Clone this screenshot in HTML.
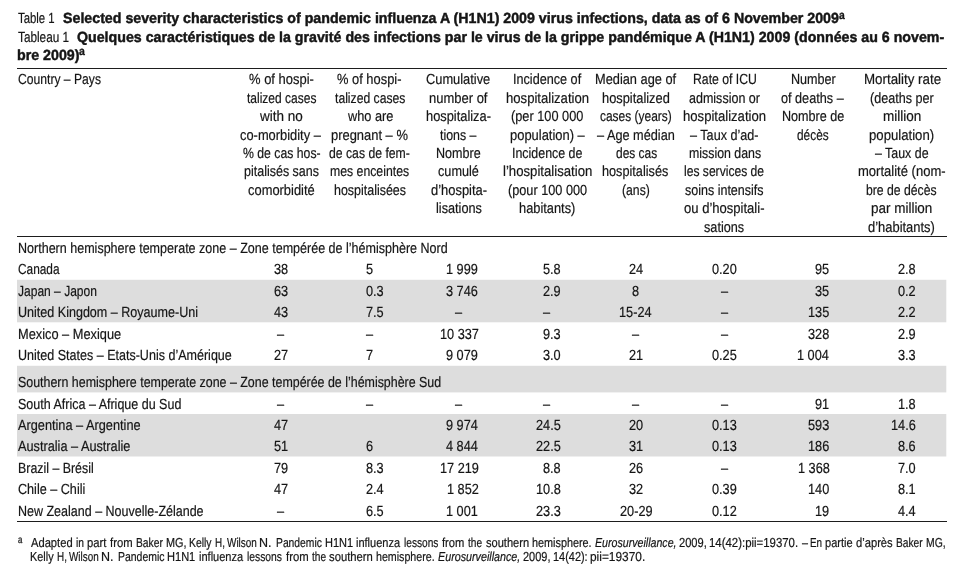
<!DOCTYPE html>
<html lang="en"><head><meta charset="utf-8"><title>Table 1</title>
<style>
html,body{margin:0;padding:0;background:#fff}
body{width:978px;height:574px;position:relative;overflow:hidden;font-family:"Liberation Sans",Arial,sans-serif;}
.t{position:absolute;white-space:nowrap;line-height:20px;transform-origin:0 0;margin:0;padding:0;text-rendering:geometricPrecision}
.t i{font-style:italic}
.rule{position:absolute;background:#1d1d1d;height:1px}
.band{position:absolute;background:#dcddde}
.r{font-size:14.7px;font-weight:400;color:#151515;-webkit-text-stroke:0.2px #151515}
.b{font-size:14.7px;font-weight:700;color:#151515;-webkit-text-stroke:0.45px #151515}
.bs{font-size:11.6px;font-weight:700;color:#151515;-webkit-text-stroke:0.3px #151515}
.f{font-size:13px;font-weight:400;color:#151515;-webkit-text-stroke:0.2px #151515}
.fs{font-size:10.4px;font-weight:400;color:#151515;-webkit-text-stroke:0.3px #151515}
</style></head>
<body>
<div class="band" style="left:17px;top:279px;width:929px;height:1px;background:#f8f8f8"></div>
<div class="band" style="left:946px;top:279px;width:1px;height:1px;background:#fdfdfd"></div>
<div class="band" style="left:17px;top:280px;width:929px;height:42px;background:#dddddd"></div>
<div class="band" style="left:946px;top:280px;width:1px;height:42px;background:#f5f5f5"></div>
<div class="band" style="left:17px;top:322px;width:929px;height:1px;background:#f5f5f5"></div>
<div class="band" style="left:946px;top:322px;width:1px;height:1px;background:#fcfcfc"></div>
<div class="band" style="left:17px;top:365px;width:929px;height:1px;background:#f8f8f8"></div>
<div class="band" style="left:946px;top:365px;width:1px;height:1px;background:#fdfdfd"></div>
<div class="band" style="left:17px;top:366px;width:929px;height:26px;background:#dddddd"></div>
<div class="band" style="left:946px;top:366px;width:1px;height:26px;background:#f5f5f5"></div>
<div class="band" style="left:17px;top:392px;width:929px;height:1px;background:#f1f1f1"></div>
<div class="band" style="left:946px;top:392px;width:1px;height:1px;background:#fbfbfb"></div>
<div class="band" style="left:17px;top:414px;width:929px;height:42px;background:#dddddd"></div>
<div class="band" style="left:946px;top:414px;width:1px;height:42px;background:#f5f5f5"></div>
<div class="band" style="left:17px;top:456px;width:929px;height:1px;background:#eeeeee"></div>
<div class="band" style="left:946px;top:456px;width:1px;height:1px;background:#fafafa"></div>
<div class="rule" style="left:17.00px;top:68.00px;width:930.00px"></div>
<div class="rule" style="left:17.00px;top:236.00px;width:930.00px"></div>
<div class="rule" style="left:17.00px;top:521.00px;width:930.00px"></div>
<span class="t r" style="left:17.81px;top:9px;transform:scaleX(0.7742)">Table 1</span>
<span class="t b" style="left:63.46px;top:9px;transform:scaleX(0.9673)">Selected severity characteristics of pandemic influenza A (H1N1) 2009 virus infections, data as of 6 November 2009</span>
<span class="t bs" style="left:838.98px;top:6px;transform:scaleX(0.8923)">a</span>
<span class="t r" style="left:17.80px;top:28px;transform:scaleX(0.8016)">Tableau 1</span>
<span class="t b" style="left:77.06px;top:28px;transform:scaleX(0.9670)">Quelques caractéristiques de la gravité des infections par le virus de la grippe pandémique A (H1N1) 2009 (données au 6 novem-</span>
<span class="t b" style="left:17.27px;top:46px;transform:scaleX(0.9692)">bre 2009)</span>
<span class="t bs" style="left:79.47px;top:42px;transform:scaleX(0.9077)">a</span>
<span class="t r" style="left:17.58px;top:70px;transform:scaleX(0.8262)">Country – Pays</span>
<span class="t r" style="left:249.36px;top:70px;transform:scaleX(0.8828)">% of hospi-</span>
<span class="t r" style="left:246.80px;top:89px;transform:scaleX(0.8178)">talized cases</span>
<span class="t r" style="left:260.30px;top:107px;transform:scaleX(0.9196)">with no</span>
<span class="t r" style="left:240.16px;top:126px;transform:scaleX(0.8763)">co-morbidity –</span>
<span class="t r" style="left:242.88px;top:144px;transform:scaleX(0.8337)">% de cas hos-</span>
<span class="t r" style="left:243.66px;top:162px;transform:scaleX(0.8506)">pitalisés sans</span>
<span class="t r" style="left:247.96px;top:181px;transform:scaleX(0.8787)">comorbidité</span>
<span class="t r" style="left:337.36px;top:70px;transform:scaleX(0.8772)">% of hospi-</span>
<span class="t r" style="left:335.30px;top:89px;transform:scaleX(0.8284)">talized cases</span>
<span class="t r" style="left:347.50px;top:107px;transform:scaleX(0.8696)">who are</span>
<span class="t r" style="left:330.94px;top:126px;transform:scaleX(0.8800)">pregnant – %</span>
<span class="t r" style="left:329.18px;top:144px;transform:scaleX(0.8323)">de cas de fem-</span>
<span class="t r" style="left:330.37px;top:162px;transform:scaleX(0.8353)">mes enceintes</span>
<span class="t r" style="left:333.85px;top:181px;transform:scaleX(0.8479)">hospitalisées</span>
<span class="t r" style="left:426.34px;top:70px;transform:scaleX(0.8747)">Cumulative</span>
<span class="t r" style="left:429.14px;top:89px;transform:scaleX(0.8840)">number of</span>
<span class="t r" style="left:425.93px;top:107px;transform:scaleX(0.8742)">hospitaliza-</span>
<span class="t r" style="left:440.30px;top:126px;transform:scaleX(0.8414)">tions –</span>
<span class="t r" style="left:436.34px;top:144px;transform:scaleX(0.8552)">Nombre</span>
<span class="t r" style="left:438.17px;top:162px;transform:scaleX(0.8627)">cumulé</span>
<span class="t r" style="left:430.66px;top:181px;transform:scaleX(0.8797)">d’hospita-</span>
<span class="t r" style="left:435.55px;top:199px;transform:scaleX(0.8654)">lisations</span>
<span class="t r" style="left:512.62px;top:70px;transform:scaleX(0.8603)">Incidence of</span>
<span class="t r" style="left:505.61px;top:89px;transform:scaleX(0.8921)">hospitalization</span>
<span class="t r" style="left:510.95px;top:107px;transform:scaleX(0.8683)">(per 100 000</span>
<span class="t r" style="left:509.54px;top:126px;transform:scaleX(0.8807)">population) –</span>
<span class="t r" style="left:511.84px;top:144px;transform:scaleX(0.8454)">Incidence de</span>
<span class="t r" style="left:502.83px;top:162px;transform:scaleX(0.8969)">l’hospitalisation</span>
<span class="t r" style="left:507.55px;top:181px;transform:scaleX(0.8654)">(pour 100 000</span>
<span class="t r" style="left:518.93px;top:199px;transform:scaleX(0.8733)">habitants)</span>
<span class="t r" style="left:595.23px;top:70px;transform:scaleX(0.8715)">Median age of</span>
<span class="t r" style="left:602.03px;top:89px;transform:scaleX(0.8739)">hospitalized</span>
<span class="t r" style="left:600.19px;top:107px;transform:scaleX(0.8138)">cases (years)</span>
<span class="t r" style="left:596.70px;top:126px;transform:scaleX(0.8663)">– Age médian</span>
<span class="t r" style="left:615.59px;top:144px;transform:scaleX(0.8141)">des cas</span>
<span class="t r" style="left:602.44px;top:162px;transform:scaleX(0.8638)">hospitalisés</span>
<span class="t r" style="left:622.08px;top:181px;transform:scaleX(0.8312)">(ans)</span>
<span class="t r" style="left:692.87px;top:70px;transform:scaleX(0.8334)">Rate of ICU</span>
<span class="t r" style="left:689.17px;top:89px;transform:scaleX(0.8520)">admission or</span>
<span class="t r" style="left:683.21px;top:107px;transform:scaleX(0.8921)">hospitalization</span>
<span class="t r" style="left:690.20px;top:126px;transform:scaleX(0.8593)">– Taux d’ad-</span>
<span class="t r" style="left:688.57px;top:144px;transform:scaleX(0.8414)">mission dans</span>
<span class="t r" style="left:684.48px;top:162px;transform:scaleX(0.8240)">les services de</span>
<span class="t r" style="left:685.29px;top:181px;transform:scaleX(0.8514)">soins intensifs</span>
<span class="t r" style="left:684.26px;top:199px;transform:scaleX(0.8883)">ou d’hospitali-</span>
<span class="t r" style="left:704.28px;top:218px;transform:scaleX(0.8634)">sations</span>
<span class="t r" style="left:790.64px;top:70px;transform:scaleX(0.8566)">Number</span>
<span class="t r" style="left:781.47px;top:89px;transform:scaleX(0.8623)">of deaths –</span>
<span class="t r" style="left:782.04px;top:107px;transform:scaleX(0.8575)">Nombre de</span>
<span class="t r" style="left:797.40px;top:126px;transform:scaleX(0.8078)">décès</span>
<span class="t r" style="left:863.59px;top:70px;transform:scaleX(0.9081)">Mortality rate</span>
<span class="t r" style="left:869.96px;top:89px;transform:scaleX(0.8571)">(deaths per</span>
<span class="t r" style="left:882.81px;top:107px;transform:scaleX(0.9200)">million</span>
<span class="t r" style="left:869.13px;top:126px;transform:scaleX(0.8954)">population)</span>
<span class="t r" style="left:874.90px;top:144px;transform:scaleX(0.8444)">– Taux de</span>
<span class="t r" style="left:857.63px;top:162px;transform:scaleX(0.8872)">mortalité (nom-</span>
<span class="t r" style="left:866.08px;top:181px;transform:scaleX(0.8310)">bre de décès</span>
<span class="t r" style="left:871.11px;top:199px;transform:scaleX(0.9165)">par million</span>
<span class="t r" style="left:868.36px;top:218px;transform:scaleX(0.8803)">d’habitants)</span>
<span class="t r" style="left:17.75px;top:239px;transform:scaleX(0.8530)">Northern hemisphere temperate zone – Zone tempérée de l’hémisphère Nord</span>
<span class="t r" style="left:17.69px;top:260px;transform:scaleX(0.8079)">Canada</span>
<span class="t r" style="left:274.26px;top:260px;transform:scaleX(0.8670)">38</span>
<span class="t r" style="left:365.87px;top:260px;transform:scaleX(0.8670)">5</span>
<span class="t r" style="left:446.47px;top:260px;transform:scaleX(0.8670)">1 999</span>
<span class="t r" style="left:542.96px;top:260px;transform:scaleX(0.8670)">5.8</span>
<span class="t r" style="left:628.75px;top:260px;transform:scaleX(0.8670)">24</span>
<span class="t r" style="left:712.14px;top:260px;transform:scaleX(0.8670)">0.20</span>
<span class="t r" style="left:815.34px;top:260px;transform:scaleX(0.8670)">95</span>
<span class="t r" style="left:897.66px;top:260px;transform:scaleX(0.8670)">2.8</span>
<span class="t r" style="left:18.10px;top:282px;transform:scaleX(0.8189)">Japan – Japon</span>
<span class="t r" style="left:274.15px;top:282px;transform:scaleX(0.8670)">63</span>
<span class="t r" style="left:365.87px;top:282px;transform:scaleX(0.8670)">0.3</span>
<span class="t r" style="left:446.47px;top:282px;transform:scaleX(0.8670)">3 746</span>
<span class="t r" style="left:543.18px;top:282px;transform:scaleX(0.8670)">2.9</span>
<span class="t r" style="left:632.32px;top:282px;transform:scaleX(0.8670)">8</span>
<span class="t r" style="left:721.42px;top:282px;transform:scaleX(0.8670)">–</span>
<span class="t r" style="left:815.34px;top:282px;transform:scaleX(0.8670)">35</span>
<span class="t r" style="left:897.88px;top:282px;transform:scaleX(0.8670)">0.2</span>
<span class="t r" style="left:17.75px;top:303px;transform:scaleX(0.8546)">United Kingdom – Royaume-Uni</span>
<span class="t r" style="left:274.36px;top:303px;transform:scaleX(0.8670)">43</span>
<span class="t r" style="left:365.65px;top:303px;transform:scaleX(0.8670)">7.5</span>
<span class="t r" style="left:455.42px;top:303px;transform:scaleX(0.8670)">–</span>
<span class="t r" style="left:543.42px;top:303px;transform:scaleX(0.8670)">–</span>
<span class="t r" style="left:619.32px;top:303px;transform:scaleX(0.8670)">15-24</span>
<span class="t r" style="left:721.42px;top:303px;transform:scaleX(0.8670)">–</span>
<span class="t r" style="left:808.19px;top:303px;transform:scaleX(0.8670)">135</span>
<span class="t r" style="left:897.88px;top:303px;transform:scaleX(0.8670)">2.2</span>
<span class="t r" style="left:17.73px;top:325px;transform:scaleX(0.8719)">Mexico – Mexique</span>
<span class="t r" style="left:277.42px;top:325px;transform:scaleX(0.8670)">–</span>
<span class="t r" style="left:366.42px;top:325px;transform:scaleX(0.8670)">–</span>
<span class="t r" style="left:439.54px;top:325px;transform:scaleX(0.8670)">10 337</span>
<span class="t r" style="left:542.96px;top:325px;transform:scaleX(0.8670)">9.3</span>
<span class="t r" style="left:632.32px;top:325px;transform:scaleX(0.8670)">–</span>
<span class="t r" style="left:721.42px;top:325px;transform:scaleX(0.8670)">–</span>
<span class="t r" style="left:808.19px;top:325px;transform:scaleX(0.8670)">328</span>
<span class="t r" style="left:897.88px;top:325px;transform:scaleX(0.8670)">2.9</span>
<span class="t r" style="left:17.75px;top:346px;transform:scaleX(0.8530)">United States – Etats-Unis d’Amérique</span>
<span class="t r" style="left:274.26px;top:346px;transform:scaleX(0.8670)">27</span>
<span class="t r" style="left:365.65px;top:346px;transform:scaleX(0.8670)">7</span>
<span class="t r" style="left:446.47px;top:346px;transform:scaleX(0.8670)">9 079</span>
<span class="t r" style="left:542.96px;top:346px;transform:scaleX(0.8670)">3.0</span>
<span class="t r" style="left:628.86px;top:346px;transform:scaleX(0.8670)">21</span>
<span class="t r" style="left:712.25px;top:346px;transform:scaleX(0.8670)">0.25</span>
<span class="t r" style="left:797.35px;top:346px;transform:scaleX(0.8670)">1 004</span>
<span class="t r" style="left:897.66px;top:346px;transform:scaleX(0.8670)">3.3</span>
<span class="t r" style="left:18.18px;top:373px;transform:scaleX(0.8455)">Southern hemisphere temperate zone – Zone tempérée de l’hémisphère Sud</span>
<span class="t r" style="left:18.17px;top:395px;transform:scaleX(0.8514)">South Africa – Afrique du Sud</span>
<span class="t r" style="left:277.42px;top:395px;transform:scaleX(0.8670)">–</span>
<span class="t r" style="left:366.42px;top:395px;transform:scaleX(0.8670)">–</span>
<span class="t r" style="left:455.42px;top:395px;transform:scaleX(0.8670)">–</span>
<span class="t r" style="left:543.42px;top:395px;transform:scaleX(0.8670)">–</span>
<span class="t r" style="left:632.32px;top:395px;transform:scaleX(0.8670)">–</span>
<span class="t r" style="left:721.42px;top:395px;transform:scaleX(0.8670)">–</span>
<span class="t r" style="left:815.34px;top:395px;transform:scaleX(0.8670)">91</span>
<span class="t r" style="left:897.66px;top:395px;transform:scaleX(0.8670)">1.8</span>
<span class="t r" style="left:18.30px;top:416px;transform:scaleX(0.8675)">Argentina – Argentine</span>
<span class="t r" style="left:274.36px;top:416px;transform:scaleX(0.8670)">47</span>
<span class="t r" style="left:446.25px;top:416px;transform:scaleX(0.8670)">9 974</span>
<span class="t r" style="left:536.02px;top:416px;transform:scaleX(0.8670)">24.5</span>
<span class="t r" style="left:628.75px;top:416px;transform:scaleX(0.8670)">20</span>
<span class="t r" style="left:712.25px;top:416px;transform:scaleX(0.8670)">0.13</span>
<span class="t r" style="left:808.19px;top:416px;transform:scaleX(0.8670)">593</span>
<span class="t r" style="left:890.72px;top:416px;transform:scaleX(0.8670)">14.6</span>
<span class="t r" style="left:18.30px;top:437px;transform:scaleX(0.8658)">Australia – Australie</span>
<span class="t r" style="left:274.26px;top:437px;transform:scaleX(0.8670)">51</span>
<span class="t r" style="left:365.65px;top:437px;transform:scaleX(0.8670)">6</span>
<span class="t r" style="left:446.25px;top:437px;transform:scaleX(0.8670)">4 844</span>
<span class="t r" style="left:536.02px;top:437px;transform:scaleX(0.8670)">22.5</span>
<span class="t r" style="left:628.86px;top:437px;transform:scaleX(0.8670)">31</span>
<span class="t r" style="left:712.25px;top:437px;transform:scaleX(0.8670)">0.13</span>
<span class="t r" style="left:808.19px;top:437px;transform:scaleX(0.8670)">186</span>
<span class="t r" style="left:897.66px;top:437px;transform:scaleX(0.8670)">8.6</span>
<span class="t r" style="left:17.76px;top:459px;transform:scaleX(0.8432)">Brazil – Brésil</span>
<span class="t r" style="left:274.15px;top:459px;transform:scaleX(0.8670)">79</span>
<span class="t r" style="left:365.87px;top:459px;transform:scaleX(0.8670)">8.3</span>
<span class="t r" style="left:439.54px;top:459px;transform:scaleX(0.8670)">17 219</span>
<span class="t r" style="left:542.96px;top:459px;transform:scaleX(0.8670)">8.8</span>
<span class="t r" style="left:628.86px;top:459px;transform:scaleX(0.8670)">26</span>
<span class="t r" style="left:721.42px;top:459px;transform:scaleX(0.8670)">–</span>
<span class="t r" style="left:797.57px;top:459px;transform:scaleX(0.8670)">1 368</span>
<span class="t r" style="left:897.66px;top:459px;transform:scaleX(0.8670)">7.0</span>
<span class="t r" style="left:17.66px;top:480px;transform:scaleX(0.8586)">Chile – Chili</span>
<span class="t r" style="left:274.36px;top:480px;transform:scaleX(0.8670)">47</span>
<span class="t r" style="left:365.87px;top:480px;transform:scaleX(0.8670)">2.4</span>
<span class="t r" style="left:446.69px;top:480px;transform:scaleX(0.8670)">1 852</span>
<span class="t r" style="left:536.02px;top:480px;transform:scaleX(0.8670)">10.8</span>
<span class="t r" style="left:628.86px;top:480px;transform:scaleX(0.8670)">32</span>
<span class="t r" style="left:712.25px;top:480px;transform:scaleX(0.8670)">0.39</span>
<span class="t r" style="left:808.19px;top:480px;transform:scaleX(0.8670)">140</span>
<span class="t r" style="left:897.88px;top:480px;transform:scaleX(0.8670)">8.1</span>
<span class="t r" style="left:17.75px;top:502px;transform:scaleX(0.8513)">New Zealand – Nouvelle-Zélande</span>
<span class="t r" style="left:277.42px;top:502px;transform:scaleX(0.8670)">–</span>
<span class="t r" style="left:365.65px;top:502px;transform:scaleX(0.8670)">6.5</span>
<span class="t r" style="left:446.47px;top:502px;transform:scaleX(0.8670)">1 001</span>
<span class="t r" style="left:536.02px;top:502px;transform:scaleX(0.8670)">23.3</span>
<span class="t r" style="left:619.64px;top:502px;transform:scaleX(0.8670)">20-29</span>
<span class="t r" style="left:712.25px;top:502px;transform:scaleX(0.8670)">0.12</span>
<span class="t r" style="left:815.34px;top:502px;transform:scaleX(0.8670)">19</span>
<span class="t r" style="left:897.66px;top:502px;transform:scaleX(0.8670)">4.4</span>
<span class="t fs" style="left:17.81px;top:531px;transform:scaleX(0.7478)">a</span>
<span class="t f" style="left:30.90px;top:533px;transform:scaleX(0.8586)">Adapted</span>
<span class="t f" style="left:75.51px;top:533px;transform:scaleX(0.7886)">in</span>
<span class="t f" style="left:86.55px;top:533px;transform:scaleX(0.8644)">part</span>
<span class="t f" style="left:110.20px;top:533px;transform:scaleX(0.8673)">from</span>
<span class="t f" style="left:135.51px;top:533px;transform:scaleX(0.7908)">Baker</span>
<span class="t f" style="left:165.56px;top:533px;transform:scaleX(0.8356)">MG,</span>
<span class="t f" style="left:188.60px;top:533px;transform:scaleX(0.8000)">Kelly</span>
<span class="t f" style="left:214.64px;top:533px;transform:scaleX(0.7600)">H,</span>
<span class="t f" style="left:226.90px;top:533px;transform:scaleX(0.7660)">Wilson</span>
<span class="t f" style="left:259.44px;top:533px;transform:scaleX(0.9600)">N.</span>
<span class="t f" style="left:276.01px;top:533px;transform:scaleX(0.7929)">Pandemic</span>
<span class="t f" style="left:324.95px;top:533px;transform:scaleX(0.8472)">H1N1</span>
<span class="t f" style="left:356.27px;top:533px;transform:scaleX(0.8466)">influenza</span>
<span class="t f" style="left:404.12px;top:533px;transform:scaleX(0.7791)">lessons</span>
<span class="t f" style="left:442.40px;top:533px;transform:scaleX(0.8594)">from</span>
<span class="t f" style="left:468.30px;top:533px;transform:scaleX(0.7771)">the</span>
<span class="t f" style="left:485.89px;top:533px;transform:scaleX(0.8523)">southern</span>
<span class="t f" style="left:532.08px;top:533px;transform:scaleX(0.8330)">hemisphere.</span>
<span class="t f" style="left:594.80px;top:533px;transform:scaleX(0.8173)"><i>Eurosurveillance,</i></span>
<span class="t f" style="left:678.87px;top:533px;transform:scaleX(0.8548)">2009,</span>
<span class="t f" style="left:709.34px;top:533px;transform:scaleX(0.8772)">14(42):pii=19370.</span>
<span class="t f" style="left:801.70px;top:533px;transform:scaleX(0.8276)">–</span>
<span class="t f" style="left:810.14px;top:533px;transform:scaleX(0.7600)">En</span>
<span class="t f" style="left:825.16px;top:533px;transform:scaleX(0.8480)">partie</span>
<span class="t f" style="left:856.07px;top:533px;transform:scaleX(0.8599)">d’après</span>
<span class="t f" style="left:895.82px;top:533px;transform:scaleX(0.7847)">Baker</span>
<span class="t f" style="left:925.70px;top:533px;transform:scaleX(0.8000)">MG,</span>
<span class="t f" style="left:29.86px;top:547px;transform:scaleX(0.8367)">Kelly</span>
<span class="t f" style="left:56.94px;top:547px;transform:scaleX(0.7600)">H,</span>
<span class="t f" style="left:69.30px;top:547px;transform:scaleX(0.7600)">Wilson</span>
<span class="t f" style="left:101.34px;top:547px;transform:scaleX(0.9600)">N.</span>
<span class="t f" style="left:117.70px;top:547px;transform:scaleX(0.8035)">Pandemic</span>
<span class="t f" style="left:167.25px;top:547px;transform:scaleX(0.8504)">H1N1</span>
<span class="t f" style="left:198.66px;top:547px;transform:scaleX(0.8485)">influenza</span>
<span class="t f" style="left:246.61px;top:547px;transform:scaleX(0.7930)">lessons</span>
<span class="t f" style="left:285.50px;top:547px;transform:scaleX(0.8713)">from</span>
<span class="t f" style="left:311.70px;top:547px;transform:scaleX(0.7771)">the</span>
<span class="t f" style="left:329.28px;top:547px;transform:scaleX(0.8663)">southern</span>
<span class="t f" style="left:376.18px;top:547px;transform:scaleX(0.8201)">hemisphere.</span>
<span class="t f" style="left:437.99px;top:547px;transform:scaleX(0.8255)"><i>Eurosurveillance,</i></span>
<span class="t f" style="left:522.88px;top:547px;transform:scaleX(0.8452)">2009,</span>
<span class="t f" style="left:553.07px;top:547px;transform:scaleX(0.8408)">14(42):</span>
<span class="t f" style="left:590.21px;top:547px;transform:scaleX(0.9145)">pii=19370.</span>
</body></html>
